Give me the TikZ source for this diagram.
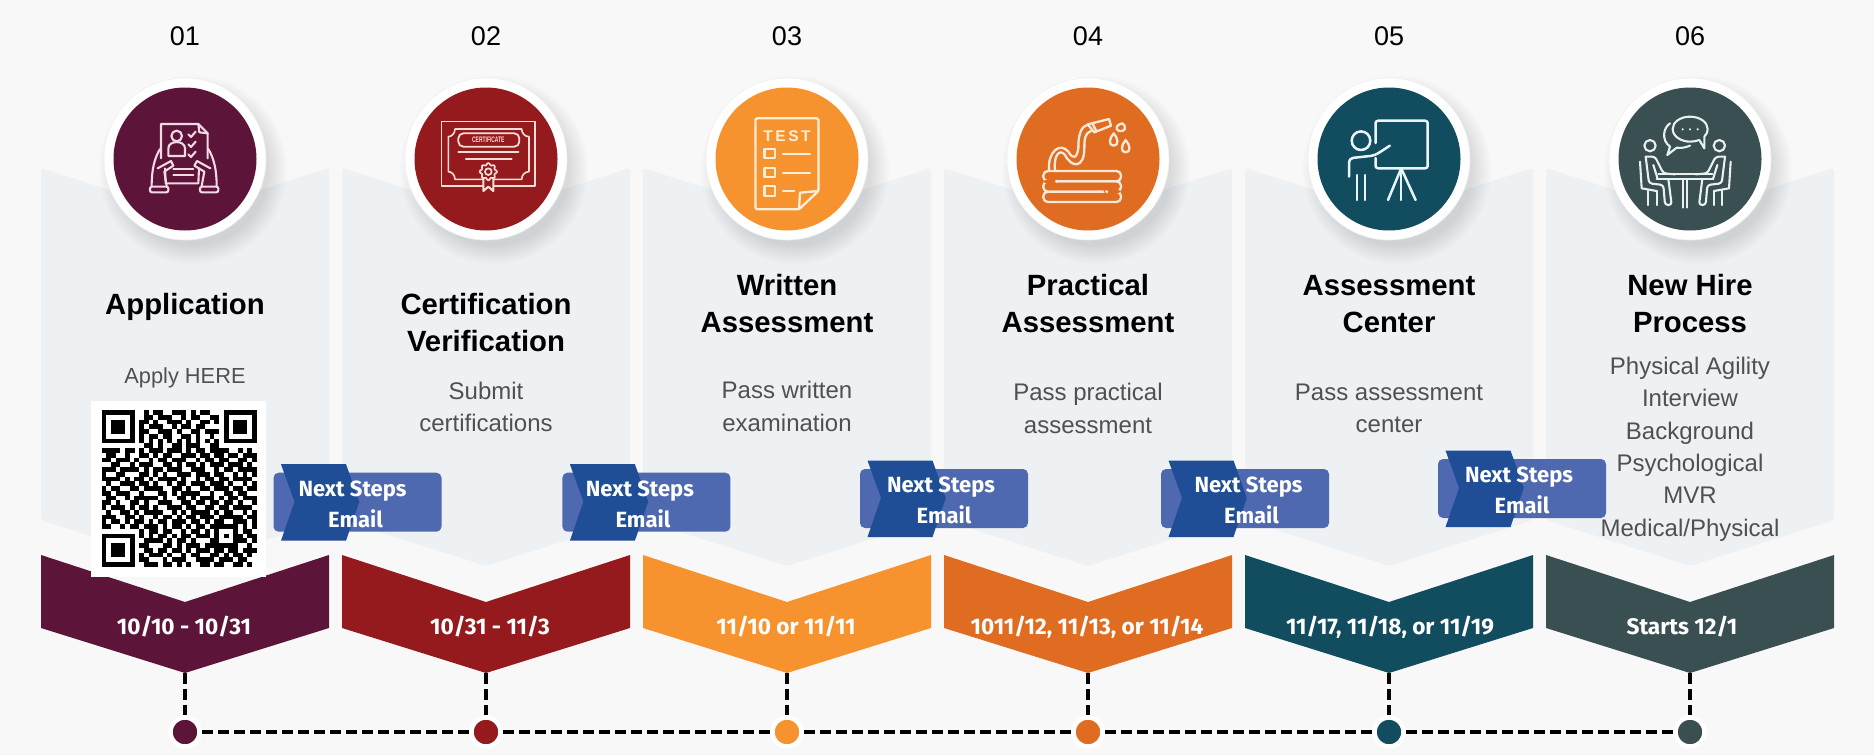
\documentclass[tikz,border=0pt]{standalone}
\usepackage{fontspec}
\setmainfont{Liberation Sans}
\newfontfamily\plexf{Fira Sans}
\definecolor{bgc}{HTML}{F8F8F8}
\definecolor{panelc}{HTML}{EEF1F4}
\definecolor{shadowc}{HTML}{5F6A72}
\definecolor{c1}{HTML}{5C1438}
\definecolor{c2}{HTML}{951A1D}
\definecolor{c3}{HTML}{F7932F}
\definecolor{c4}{HTML}{E06C21}
\definecolor{c5}{HTML}{124C5F}
\definecolor{c6}{HTML}{3A4F51}
\definecolor{boxlight}{HTML}{4F69B0}
\definecolor{boxdark}{HTML}{1F4E96}
\definecolor{bodyc}{HTML}{505050}
\definecolor{ic1}{HTML}{F3D9E3}
\definecolor{ic2}{HTML}{F7DDD8}
\definecolor{ic3}{HTML}{FFEFD9}
\definecolor{ic4}{HTML}{FCE8D6}
\definecolor{ic5}{HTML}{EAF5F8}
\definecolor{ic6}{HTML}{E9F0F0}
\tikzset{
  numtext/.style={font=\fontsize{27}{30}\selectfont,text=black},
  titletext/.style={font=\fontsize{29.3}{37}\selectfont\bfseries,text=black,align=center},
  bodytext/.style={font=\fontsize{24}{32.4}\selectfont,text=bodyc,align=center},
  applytext/.style={font=\fontsize{21.8}{32.4}\selectfont,text=bodyc,align=center},
  datetext/.style={font=\plexf\fontsize{22.6}{24}\selectfont\bfseries,text=white},
  nexttext/.style={font=\plexf\fontsize{22}{24}\selectfont\bfseries,text=white},
  dashline/.style={draw=black,line width=4pt,dash pattern=on 11pt off 5pt},
  dotnode/.style={circle,minimum size=29pt,inner sep=0pt,draw=white,line width=4.5pt},
  icon/.style={draw=#1,line width=2.1pt,line cap=round,line join=round},
  cropscale/.style={x=0.33333pt,y=-0.33333pt}
}
\newcount\qrx
\newcount\qry
\def\qrscan#1{\ifx#1;\let\qrnext\relax\else\if#11\fill[black] (\the\qrx,\the\qry) rectangle +(1.03,1.03);\fi\advance\qrx by 1 \let\qrnext\qrscan\fi\qrnext}
\def\qrrow#1{\qrx=0 \qrscan#1;\global\advance\qry by 1 }
\newcommand\nextbox[4]{%
  \begin{scope}[shift={(#2,#3)}]
    \fill[boxlight,rounded corners=5pt] (0,0) rectangle (168,59);
    \fill[boxdark] (7.5,-8.5) -- (72.5,-8.5) -- (85.8,29) -- (72.5,68) -- (7.5,68) -- (21,29) -- cycle;
    \node[nexttext] (#1a) at (81+#4,18) {Next Steps};
    \node[nexttext] (#1b) at (84+#4,46) {Email};
  \end{scope}}
\begin{document}
\begin{tikzpicture}[x=1pt,y=-1pt]
\useasboundingbox (0,0) rectangle (1874,755);
\fill[bgc] (0,0) rectangle (1874,755);
% panels and chevrons
\foreach \i/\x in {1/185,2/486,3/787,4/1088,5/1389,6/1690}{
  \fill[panelc,rounded corners=3pt] (\x-144,168) -- (\x,214) -- (\x+144,168) -- (\x+144,520) -- (\x,566) -- (\x-144,520) -- cycle;
  \fill[c\i] (\x-144,555) -- (\x,602) -- (\x+144,555) -- (\x+144,628) -- (\x,673) -- (\x-144,628) -- cycle;
  \coordinate (t\i) at (\x,673);
  \node[numtext] (n\i) at (\x,36) {0\i};
  \foreach \r in {94,92,90,88,86,84,82,80,78,76}{
    \fill[shadowc,opacity=0.02] (\x+8,159+11) circle[radius=\r];
  }
  \node[circle,fill=white,draw=black!6,line width=.6pt,minimum size=162pt,inner sep=0pt] (o\i) at (\x,159) {};
  \node[circle,fill=c\i,minimum size=143pt,inner sep=0pt] (m\i) at (\x,159) {};
  \node[dotnode,fill=c\i] (d\i) at (\x,732) {};
  \draw[dashline] (t\i) -- (d\i);
}
\foreach \a/\b in {1/2,2/3,3/4,4/5,5/6}{ \draw[dashline] (d\a) -- (d\b); }
% dates
\node[datetext] (dt1) at (184,627) {10/10 - 10/31};
\node[datetext] (dt2) at (490,627) {10/31 - 11/3};
\node[datetext] (dt3) at (786,627) {11/10 or 11/11};
\node[datetext] (dt4) at (1087,627) {1011/12, 11/13, or 11/14};
\node[datetext] (dt5) at (1390,627) {11/17, 11/18, or 11/19};
\node[datetext] (dt6) at (1682,627) {Starts 12/1};
% titles
\node[titletext] (ti1) at (185,306.5) {Application};
\node[titletext] (ti2) at (486,322.5) {Certification\\Verification};
\node[titletext] (ti3) at (787,304) {Written\\Assessment};
\node[titletext] (ti4) at (1088,304) {Practical\\Assessment};
\node[titletext] (ti5) at (1389,304) {Assessment\\Center};
\node[titletext] (ti6) at (1690,304) {New Hire\\Process};
% body
\node[applytext] (b1) at (185,377.5) {Apply HERE};
\node[bodytext] (b2) at (486,407) {Submit\\certifications};
\node[bodytext] (b3) at (787,406.5) {Pass written\\examination};
\node[bodytext] (b4) at (1088,408.5) {Pass practical\\assessment};
\node[bodytext] (b5) at (1389,408.5) {Pass assessment\\center};
\node[bodytext] (b6) at (1690,449) {Physical Agility\\Interview\\Background\\Psychological\\MVR\\Medical/Physical};
% QR
\fill[white] (91,401) rectangle (266,577);
\begin{scope}[shift={(101.5,410)},x=4.7pt,y=-4.75pt]
\qry=0
\qrrow{111111100101100111010110001111111}
\qrrow{100000100110111001011001101000001}
\qrrow{101110101101001110100110101011101}
\qrrow{101110101011100101101100001011101}
\qrrow{101110101100111010011011101011101}
\qrrow{100000101011011001101001001000001}
\qrrow{111111101010101010101010101111111}
\qrrow{000000000110100110111001100000000}
\qrrow{111101101011101110101101111001010}
\qrrow{011001001101011001110110110110111}
\qrrow{110111010010110111001011011001101}
\qrrow{001100101110011010110101110111010}
\qrrow{111011110101101110011100101101111}
\qrrow{100110001101010011101110110010101}
\qrrow{111101011010111101001011011011110}
\qrrow{010011101101001011011101110100101}
\qrrow{101100110111100110100110111011011}
\qrrow{110111001000110101111001001101100}
\qrrow{011001011111010011010111010110111}
\qrrow{110100110100111001101101101101001}
\qrrow{101110101101001110110011011011110}
\qrrow{010011010111100101011110101100101}
\qrrow{111001101001011010110111011111011}
\qrrow{101101011010110111011010110011101}
\qrrow{110010110111010110101101111110101}
\qrrow{000000001011011001011010100010110}
\qrrow{111111101010110101101110101011011}
\qrrow{100000100111101011010001100011101}
\qrrow{101110101100011010111011111110010}
\qrrow{101110100110110110101110110110111}
\qrrow{101110101011101001011001101011010}
\qrrow{100000101100010111001111011101100}
\qrrow{111111100111011010100110110011010}
\end{scope}
% next steps
\nextbox{ns1}{273.5}{472.7}{-2}
\nextbox{ns2}{562.4}{472.7}{-3.5}
\nextbox{ns3}{860}{469}{0}
\nextbox{ns4}{1161}{469}{6.5}
\nextbox{ns5}{1438}{459}{0}
% icon 1
\begin{scope}[shift={(135,105)},cropscale,icon=ic1]
  \draw (78,160) -- (78,57) -- (190,57) -- (218,85) -- (218,160);
  \draw (190,57) -- (193,82) -- (218,85);
  \draw (125,93) circle[radius=16];
  \draw (100,153) -- (100,130) .. controls (100,105) and (150,105) .. (150,130) -- (150,153) -- cycle;
  \draw (160,88) -- (168,96) -- (182,80);
  \draw (160,118) -- (168,126) -- (182,110);
  \draw (160,148) -- (168,156) -- (182,140);
  \draw (115,192) -- (175,192);
  \draw (115,210) -- (175,210);
  \draw (90,190) -- (92,235) -- (190,235) -- (192,190);
  \draw (50,243) .. controls (50,195) and (58,160) .. (75,132);
  \draw (95,243) -- (88,200) -- (115,182) -- (108,168) -- (68,190);
  \draw (245,243) .. controls (245,195) and (237,160) .. (220,132);
  \draw (200,243) -- (208,200) -- (178,182) -- (186,168) -- (226,190);
  \draw[rounded corners=2pt] (45,245) rectangle (100,262);
  \draw[rounded corners=2pt] (195,245) rectangle (250,262);
\end{scope}
% icon 2
\begin{scope}[shift={(430,105)},cropscale,icon=ic2]
  \draw[line width=1.4pt] (35,50) rectangle (315,243);
  \draw[line width=1.6pt] (75,72) -- (275,72) .. controls (275,85) and (285,95) .. (297,95) -- (297,200) .. controls (285,200) and (275,210) .. (275,223) -- (75,223) .. controls (75,210) and (65,200) .. (55,200) -- (55,95) .. controls (65,95) and (75,85) .. (75,72) -- cycle;
  \draw[rounded corners=5pt,line width=1.8pt] (85,85) rectangle (268,125);
  \node[text=ic2,font=\fontsize{8}{8}\selectfont\bfseries] (certtxt) at (175,104) {\scalebox{.62}[1]{CERTIFICATE}};
  \draw (85,142) -- (265,142);
  \draw (108,162) -- (245,162);
  \draw[fill=c2] (160,220) -- (160,258) -- (175,245) -- (190,258) -- (190,220);
  \draw[fill=c2,line width=1.7pt] plot[variable=\t,domain=0:360,samples=49,smooth cycle] ({175+(23+3*cos(8*\t))*cos(\t)},{200+(23+3*cos(8*\t))*sin(\t)});
  \draw[line width=1.7pt] (175,200) circle[radius=10];
\end{scope}
% icon 3
\begin{scope}[icon=ic3,line width=2.3pt]
  \draw[rounded corners=1.5pt] (799,209.3) -- (755.5,209.3) -- (755.5,118.3) -- (818.4,118.3) -- (818.4,191) -- cycle;
  \draw (818.4,191) -- (800,192.7) -- (799,209.3);
  \node[text=ic3,font=\fontsize{15.5}{16}\selectfont\bfseries] (testtxt) at (787,135.7) {T\hspace{2.6pt}E\hspace{2.6pt}S\hspace{2.6pt}T};
  \draw (764.5,149.3) rectangle (774.7,158.3);
  \draw (764.5,168.3) rectangle (774.7,177.3);
  \draw (764.5,186) rectangle (774.7,195.7);
  \draw (782.9,154.3) -- (810.2,154.3);
  \draw (782.9,172.7) -- (810.2,172.7);
  \draw (782.9,191) -- (794.3,191);
\end{scope}
% icon 4
\begin{scope}[shift={(1035,105)},cropscale,icon=ic4,line width=2.3pt]
  \draw[rounded corners=4.5pt] (25,198) rectangle (258,229);
  \draw[rounded corners=4.5pt] (25,229) rectangle (258,260);
  \draw[rounded corners=4.5pt] (25,260) rectangle (258,291);
  \draw[c4,line width=2.9pt] (30,229) -- (60,229);
  \draw[c4,line width=2.9pt] (210,260) -- (252,260);
  \fill[ic4] (65,229) circle[radius=5];
  \fill[ic4] (215,260) circle[radius=5];
  \draw (42,195) .. controls (38,140) and (75,110) .. (100,140) .. controls (115,165) and (125,160) .. (130,130) .. controls (130,95) and (135,65) .. (158,60);
  \draw (60,195) .. controls (55,150) and (75,130) .. (90,150) .. controls (110,190) and (148,190) .. (148,130) .. controls (148,100) and (150,85) .. (168,78);
  \draw[fill=c4] (158,58) -- (222,42) -- (228,62) -- (178,82) -- cycle;
  \draw (172,55) -- (184,78);
  \draw (262,55) .. controls (245,58) and (238,72) .. (252,78) .. controls (268,82) and (278,68) .. (262,55) -- cycle;
  \draw (236,85) .. controls (222,100) and (220,122) .. (236,122) .. controls (252,122) and (250,100) .. (236,85) -- cycle;
  \draw (272,105) .. controls (258,120) and (256,142) .. (272,142) .. controls (288,142) and (286,120) .. (272,105) -- cycle;
\end{scope}
% icon 5
\begin{scope}[icon=ic5,line width=2.5pt]
  \draw[rounded corners=2.5pt] (1375.5,143) -- (1375.5,120.7) -- (1427.7,120.7) -- (1427.7,168.3) -- (1375.5,168.3) -- (1375.5,158);
  \draw (1361,140.7) circle[radius=9.3];
  \draw[rounded corners=4pt] (1389.8,145.7) -- (1374.7,155.5) -- (1349,158.3) -- (1349,176.7);
  \draw (1356.9,175) -- (1356.9,200);
  \draw (1365.2,175) -- (1365.2,200);
  \draw (1401.2,168.3) -- (1388,200);
  \draw (1401.2,168.3) -- (1401.2,200);
  \draw (1401.2,168.3) -- (1415.6,200);
\end{scope}
% icon 6
\begin{scope}[shift={(1635,105)},cropscale,icon=ic6]
  \draw (45,122) circle[radius=17];
  \draw (253,122) circle[radius=17];
  \draw (165,35) .. controls (135,35) and (113,52) .. (113,72) .. controls (113,95) and (140,110) .. (165,110) .. controls (175,110) and (185,108) .. (193,105) -- (208,130) -- (208,95) .. controls (215,88) and (218,80) .. (218,72) .. controls (218,52) and (195,35) .. (165,35) -- cycle;
  \fill[ic6] (143,73) circle[radius=3.5];
  \fill[ic6] (165,73) circle[radius=3.5];
  \fill[ic6] (188,73) circle[radius=3.5];
  \draw (105,55) .. controls (85,68) and (78,105) .. (105,125) -- (97,150) -- (125,128) .. controls (138,130) and (150,128) .. (165,122);
  \draw (70,208) -- (232,208);
  \draw (65,222) -- (235,222);
  \draw (145,222) -- (145,308);
  \draw (157,222) -- (157,308);
  % left person
  \draw[rounded corners=3pt] (32,155) -- (60,155) -- (85,205) -- (120,208);
  \draw[rounded corners=3pt] (32,155) -- (42,235) -- (85,240) -- (90,300) -- (110,300) -- (100,222);
  \draw (55,180) -- (68,222);
  \draw (15,170) -- (20,250) -- (65,258);
  \draw (40,258) -- (40,300);
  \draw (65,258) -- (65,300);
  % right person
  \draw[rounded corners=3pt] (270,155) -- (242,155) -- (217,205) -- (182,208);
  \draw[rounded corners=3pt] (270,155) -- (260,235) -- (217,240) -- (212,300) -- (192,300) -- (202,222);
  \draw (247,180) -- (234,222);
  \draw (287,170) -- (282,250) -- (237,258);
  \draw (262,258) -- (262,300);
  \draw (237,258) -- (237,300);
\end{scope}
\end{tikzpicture}
\end{document}
